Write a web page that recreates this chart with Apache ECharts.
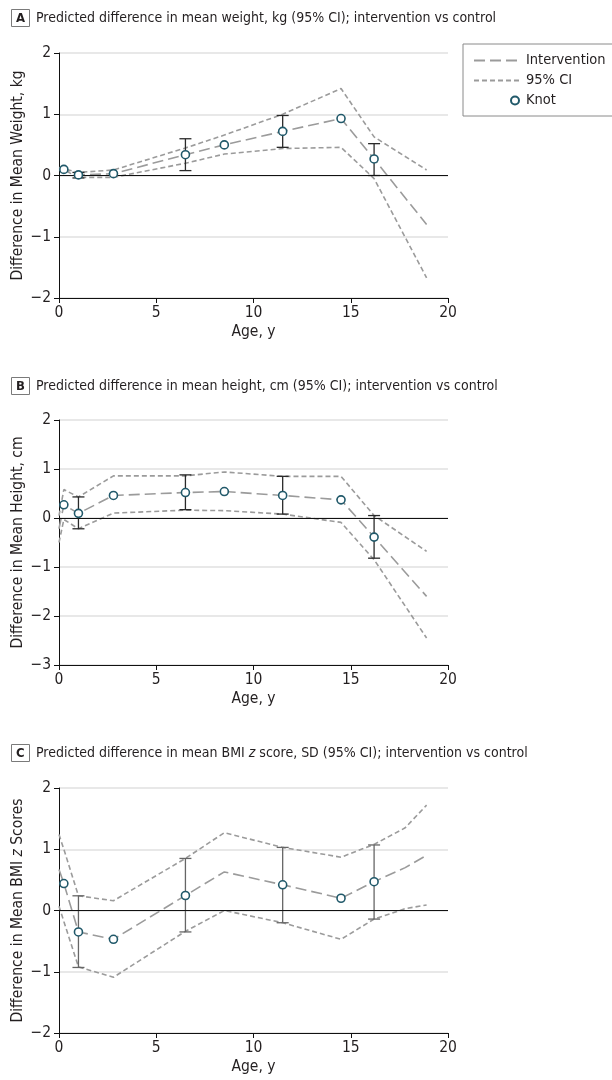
<!DOCTYPE html>
<html><head><meta charset="utf-8">
<script src="https://cdn.jsdelivr.net/npm/echarts@6/dist/echarts.min.js"></script>
<style>html,body{margin:0;padding:0;background:#fff}#c{width:612px;height:1080px}</style>
</head><body><div id="c"></div>
<script>
const FONT = "'Liberation Sans Narrow','DejaVu Sans Condensed','Roboto Condensed','Liberation Sans',sans-serif";
const TXT = '#231f20';

// ---------- Data ----------
const xTickValues = [0, 5, 10, 15, 20];

// Panel A: weight, kg
const ageA   = [0, 0.25, 1, 2.8, 6.5, 8.5, 11.5, 14.5, 16.2, 18.9];
const estA   = [0.11, 0.10, 0.01, 0.03, 0.34, 0.50, 0.72, 0.93, 0.27, -0.80];
const upperA = [0.13, 0.11, 0.05, 0.09, 0.45, 0.66, 1.00, 1.42, 0.63, 0.09];
const lowerA = [0.09, 0.09, -0.03, -0.03, 0.20, 0.35, 0.44, 0.46, -0.05, -1.67];
const knotAgeA = [0.25, 1, 2.8, 6.5, 8.5, 11.5, 14.5, 16.2];
const knotValA = [0.10, 0.01, 0.03, 0.34, 0.50, 0.72, 0.93, 0.27];
const barAgeA  = [1, 6.5, 11.5, 16.2];
const barLowA  = [-0.04, 0.08, 0.46, 0.00];
const barHighA = [0.05, 0.60, 0.98, 0.52];

// Panel B: height, cm
const ageB   = [0, 0.25, 1, 2.8, 6.5, 8.5, 11.5, 14.5, 16.2, 18.9];
const estB   = [-0.22, 0.27, 0.095, 0.46, 0.52, 0.54, 0.46, 0.37, -0.39, -1.60];
const upperB = [0.05, 0.58, 0.43, 0.86, 0.86, 0.94, 0.85, 0.85, 0.05, -0.68];
const lowerB = [-0.50, -0.03, -0.22, 0.10, 0.16, 0.15, 0.08, -0.09, -0.85, -2.45];
const knotAgeB = [0.25, 1, 2.8, 6.5, 8.5, 11.5, 14.5, 16.2];
const knotValB = [0.27, 0.095, 0.46, 0.52, 0.54, 0.46, 0.37, -0.39];
const barAgeB  = [1, 6.5, 11.5, 16.2];
const barLowB  = [-0.22, 0.17, 0.08, -0.82];
const barHighB = [0.43, 0.88, 0.85, 0.05];

// Panel C: BMI z score
const ageC   = [0, 0.25, 1, 2.8, 6.5, 8.5, 11.5, 14.5, 16.2, 17.8, 18.9];
const estC   = [0.67, 0.44, -0.35, -0.47, 0.245, 0.63, 0.42, 0.20, 0.47, 0.70, 0.90];
const upperC = [1.24, 1.00, 0.24, 0.16, 0.85, 1.27, 1.03, 0.87, 1.08, 1.35, 1.72];
const lowerC = [0.07, -0.18, -0.92, -1.09, -0.34, 0.00, -0.20, -0.47, -0.14, 0.03, 0.09];
const knotAgeC = [0.25, 1, 2.8, 6.5, 11.5, 14.5, 16.2];
const knotValC = [0.44, -0.35, -0.47, 0.245, 0.42, 0.20, 0.47];
const barAgeC  = [1, 6.5, 11.5, 16.2];
const barLowC  = [-0.93, -0.35, -0.20, -0.14];
const barHighC = [0.24, 0.85, 1.03, 1.07];

// ---------- Helpers ----------
const zip = (xs, ys) => xs.map((x, i) => [x, ys[i]]);
const zip3 = (xs, a, b) => xs.map((x, i) => [x, a[i], b[i]]);
const LINE_COLOR = '#9b9b9b';
const KNOT_COLOR = '#21596a';

function errRenderer(color) {
  return function (params, api) {
    const x = api.value(0), lo = api.value(1), hi = api.value(2);
    const pLo = api.coord([x, lo]), pHi = api.coord([x, hi]);
    const hw = 6;
    const st = { stroke: color, lineWidth: 1.3 };
    return { type: 'group', children: [
      { type: 'line', shape: { x1: pLo[0], y1: pLo[1], x2: pHi[0], y2: pHi[1] }, style: st },
      { type: 'line', shape: { x1: pLo[0] - hw, y1: pLo[1], x2: pLo[0] + hw, y2: pLo[1] }, style: st },
      { type: 'line', shape: { x1: pHi[0] - hw, y1: pHi[1], x2: pHi[0] + hw, y2: pHi[1] }, style: st }
    ]};
  };
}

function panelSeries(idx, age, est, up, lo, kAge, kVal, bAge, bLo, bHi, barColor) {
  const base = { xAxisIndex: idx, yAxisIndex: idx };
  return [
    Object.assign({ type: 'line', name: '95% CI', data: zip(age, up), symbol: 'none', z: 2,
      lineStyle: { color: LINE_COLOR, width: 1.6, type: [5, 3] }, itemStyle: { color: LINE_COLOR },
      markLine: { silent: true, symbol: 'none', label: { show: false },
        lineStyle: { color: '#111', width: 1, type: 'solid' }, data: [{ yAxis: 0 }] } }, base),
    Object.assign({ type: 'line', name: '95% CI', data: zip(age, lo), symbol: 'none', z: 2,
      lineStyle: { color: LINE_COLOR, width: 1.6, type: [5, 3] }, itemStyle: { color: LINE_COLOR } }, base),
    Object.assign({ type: 'line', name: 'Intervention', data: zip(age, est), symbol: 'none', z: 3,
      lineStyle: { color: LINE_COLOR, width: 1.6, type: [11, 5] }, itemStyle: { color: LINE_COLOR } }, base),
    Object.assign({ type: 'custom', name: 'CI bars', data: zip3(bAge, bLo, bHi), z: 4,
      encode: { x: 0, y: [1, 2] }, renderItem: errRenderer(barColor) }, base),
    Object.assign({ type: 'scatter', name: 'Knot', data: zip(kAge, kVal), symbol: 'circle', symbolSize: 8, z: 5,
      itemStyle: { color: '#fff', borderColor: KNOT_COLOR, borderWidth: 1.6, opacity: 1 } }, base)
  ];
}

const minusFmt = v => (v < 0 ? '\u2212' + Math.abs(v) : String(v));
const AX_FS = 15.5;

function xAxisFor(idx) {
  return { type: 'value', gridIndex: idx, min: 0, max: 20, interval: 5,
    name: 'Age, y', nameLocation: 'middle', nameGap: 26, nameMoveOverlap: false,
    nameTextStyle: { fontFamily: FONT, fontSize: AX_FS, color: TXT },
    axisLine: { show: true, onZero: false, lineStyle: { color: '#111', width: 1 } },
    axisTick: { show: true, length: 5, lineStyle: { color: '#111' } },
    axisLabel: { margin: 7, fontFamily: FONT, fontSize: AX_FS, color: TXT },
    splitLine: { show: false } };
}
function yAxisFor(idx, min, max, name, rich) {
  return { type: 'value', gridIndex: idx, min: min, max: max, interval: 1,
    name: name, nameLocation: 'middle', nameGap: 33, nameRotate: 90, nameMoveOverlap: false,
    nameTextStyle: Object.assign({ fontFamily: FONT, fontSize: AX_FS, color: TXT }, rich ? { rich: rich } : {}),
    axisLine: { show: true, onZero: false, lineStyle: { color: '#111', width: 1 } },
    axisTick: { show: true, length: 5, lineStyle: { color: '#111' } },
    axisLabel: { margin: 8, fontFamily: FONT, fontSize: AX_FS, color: TXT, formatter: minusFmt },
    splitLine: { show: true, lineStyle: { color: '#e0e0e0', width: 1.5 } } };
}

const T_FS = 14;
function letterTitle(letter, top) {
  return { text: letter, left: 11, top: top, padding: [3, 5, 2, 5], borderColor: '#7a7a7a', borderWidth: 1,
    textStyle: { fontFamily: FONT, fontSize: 13, fontWeight: 'bold', color: TXT } };
}
function textTitle(text, top, rich) {
  return { text: text, left: 36, top: top, padding: 0,
    textStyle: Object.assign({ fontFamily: FONT, fontSize: T_FS, fontWeight: 'normal', color: TXT },
      rich ? { rich: rich } : {}) };
}
const richN = { fontFamily: FONT, fontSize: T_FS, color: TXT };
const richI = { fontFamily: FONT, fontSize: T_FS, color: TXT, fontStyle: 'italic' };
const yRichN = { fontFamily: FONT, fontSize: AX_FS, color: TXT };
const yRichI = { fontFamily: FONT, fontSize: AX_FS, color: TXT, fontStyle: 'italic' };

const gridBase = { left: 59, width: 389, height: 245, containLabel: false, outerBoundsMode: 'none' };

const option = {
  animation: false,
  backgroundColor: '#fff',
  title: [
    letterTitle('A', 9),
    textTitle('Predicted difference in mean weight, kg (95% CI); intervention vs control', 11),
    letterTitle('B', 377),
    textTitle('Predicted difference in mean height, cm (95% CI); intervention vs control', 379),
    letterTitle('C', 744),
    textTitle('{n|Predicted difference in mean BMI }{i|z}{n| score, SD (95% CI); intervention vs control}', 746,
      { n: richN, i: richI })
  ],
  legend: {
    left: 463, top: 44, orient: 'vertical',
    padding: [9, 10, 8, 10], itemGap: 5, itemWidth: 45, itemHeight: 8,
    borderColor: '#8a8a8a', borderWidth: 1,
    textStyle: { fontFamily: FONT, fontSize: 14.5, color: TXT, padding: [0, 0, 0, 2] },
    data: [
      { name: 'Intervention', itemStyle: { opacity: 0 } },
      { name: '95% CI', itemStyle: { opacity: 0 } },
      { name: 'Knot', icon: 'path://M0,4M37,4a4,4 0 1,0 8,0a4,4 0 1,0 -8,0z' }
    ]
  },
  grid: [
    Object.assign({ top: 53 }, gridBase),
    Object.assign({ top: 420 }, gridBase),
    Object.assign({ top: 788 }, gridBase)
  ],
  xAxis: [xAxisFor(0), xAxisFor(1), xAxisFor(2)],
  yAxis: [
    yAxisFor(0, -2, 2, 'Difference in Mean Weight, kg'),
    yAxisFor(1, -3, 2, 'Difference in Mean Height, cm'),
    yAxisFor(2, -2, 2, '{n|Difference in Mean BMI }{i|z}{n| Scores}', { n: yRichN, i: yRichI })
  ],
  series: [].concat(
    panelSeries(0, ageA, estA, upperA, lowerA, knotAgeA, knotValA, barAgeA, barLowA, barHighA, '#2a2a2a'),
    panelSeries(1, ageB, estB, upperB, lowerB, knotAgeB, knotValB, barAgeB, barLowB, barHighB, '#2a2a2a'),
    panelSeries(2, ageC, estC, upperC, lowerC, knotAgeC, knotValC, barAgeC, barLowC, barHighC, '#666666')
  )
};

const chart = echarts.init(document.getElementById('c'), null, { renderer: 'canvas' });
chart.setOption(option);
</script>
</body></html>
